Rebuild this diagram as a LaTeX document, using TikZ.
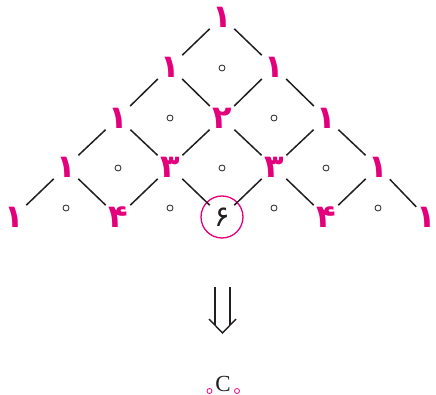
\documentclass[tikz,border=0pt]{standalone}
\usepackage{fontspec}
\usepackage{xcolor}
\usepackage{tikz}
\newfontfamily\farsi[Script=Arabic]{DejaVu Sans}
\newfontfamily\timesC{Liberation Serif}
\definecolor{magenta}{RGB}{228,0,124}
\definecolor{ink}{RGB}{35,31,32}
\tikzset{
  entry/.style={inner sep=0pt, text=magenta,
    font=\farsi\bfseries\fontsize{32}{32}\selectfont},
  chosen/.style={circle, draw=magenta, line width=1.3pt, minimum size=42pt,
    inner sep=0pt, text=ink, font=\farsi\fontsize{29}{29}\selectfont},
  hole/.style={circle, draw=ink, line width=0.8pt, minimum size=6pt, inner sep=0pt},
  blank/.style={circle, draw=magenta, line width=0.8pt, minimum size=5pt, inner sep=0pt},
  every edge/.style={draw=ink, line width=1.5pt, shorten >=17pt, shorten <=17pt},
}
\begin{document}
\begin{tikzpicture}[x=1pt, y=-1pt]
  \useasboundingbox (0,0) rectangle (436,395);

  % rows of the triangle
  \node[entry] (a0) at (222,17) {۱};
  \node[entry] (b0) at (170,67) {۱};
  \node[entry] (b1) at (274,67) {۱};
  \node[entry] (c0) at (118,118) {۱};
  \node[entry] (c1) at (222,118) {۲};
  \node[entry] (c2) at (326,118) {۱};
  \node[entry] (d0) at (66,167) {۱};
  \node[entry] (d1) at (170,167) {۳};
  \node[entry] (d2) at (274,167) {۳};
  \node[entry] (d3) at (378,167) {۱};
  \node[entry] (e0) at (14,217) {۱};
  \node[entry] (e1) at (118,217) {۴};
  \node[chosen] (e2) at (222,217) {۶};
  \node[entry] (e3) at (326,217) {۴};
  \node[entry] (e4) at (426,217) {۱};

  % small circles in the cells
  \node[hole] (h10) at (222,68) {};
  \node[hole] (h20) at (170,118) {};
  \node[hole] (h21) at (274,118) {};
  \node[hole] (h30) at (118,168) {};
  \node[hole] (h31) at (222,168) {};
  \node[hole] (h32) at (326,168) {};
  \node[hole] (h40) at (66,208) {};
  \node[hole] (h41) at (170,208) {};
  \node[hole] (h42) at (274,208) {};
  \node[hole] (h43) at (378,208) {};

  \path (a0.center) edge (b0.center)  (a0.center) edge (b1.center)
        (b0.center) edge (c0.center)  (b0.center) edge (c1.center)
        (b1.center) edge (c1.center)  (b1.center) edge (c2.center)
        (c0.center) edge (d0.center)  (c0.center) edge (d1.center)
        (c1.center) edge (d1.center)  (c1.center) edge (d2.center)
        (c2.center) edge (d2.center)  (c2.center) edge (d3.center)
        (d0.center) edge (e0.center)  (d0.center) edge (e1.center)
        (d1.center) edge (e1.center)  (d1.center) edge (e2.center)
        (d2.center) edge (e2.center)  (d2.center) edge (e3.center)
        (d3.center) edge (e3.center)  (d3.center) edge[shorten >=14pt] (e4.center);

  % double arrow
  \draw[ink, line width=1.4pt] (215,287) -- (215,325) (230,287) -- (230,325);
  \draw[ink, line width=1.4pt, line join=miter] (209,319) -- (222.5,333) -- (236,319);

  % C with two blanks
  \node[inner sep=0pt, text=ink, font=\timesC\fontsize{23}{23}\selectfont] (comb) at (223,383.5) {C};
  \node[blank] (lsub) at (209.5,391) {};
  \node[blank] (rsub) at (237,391) {};
\end{tikzpicture}
\end{document}
